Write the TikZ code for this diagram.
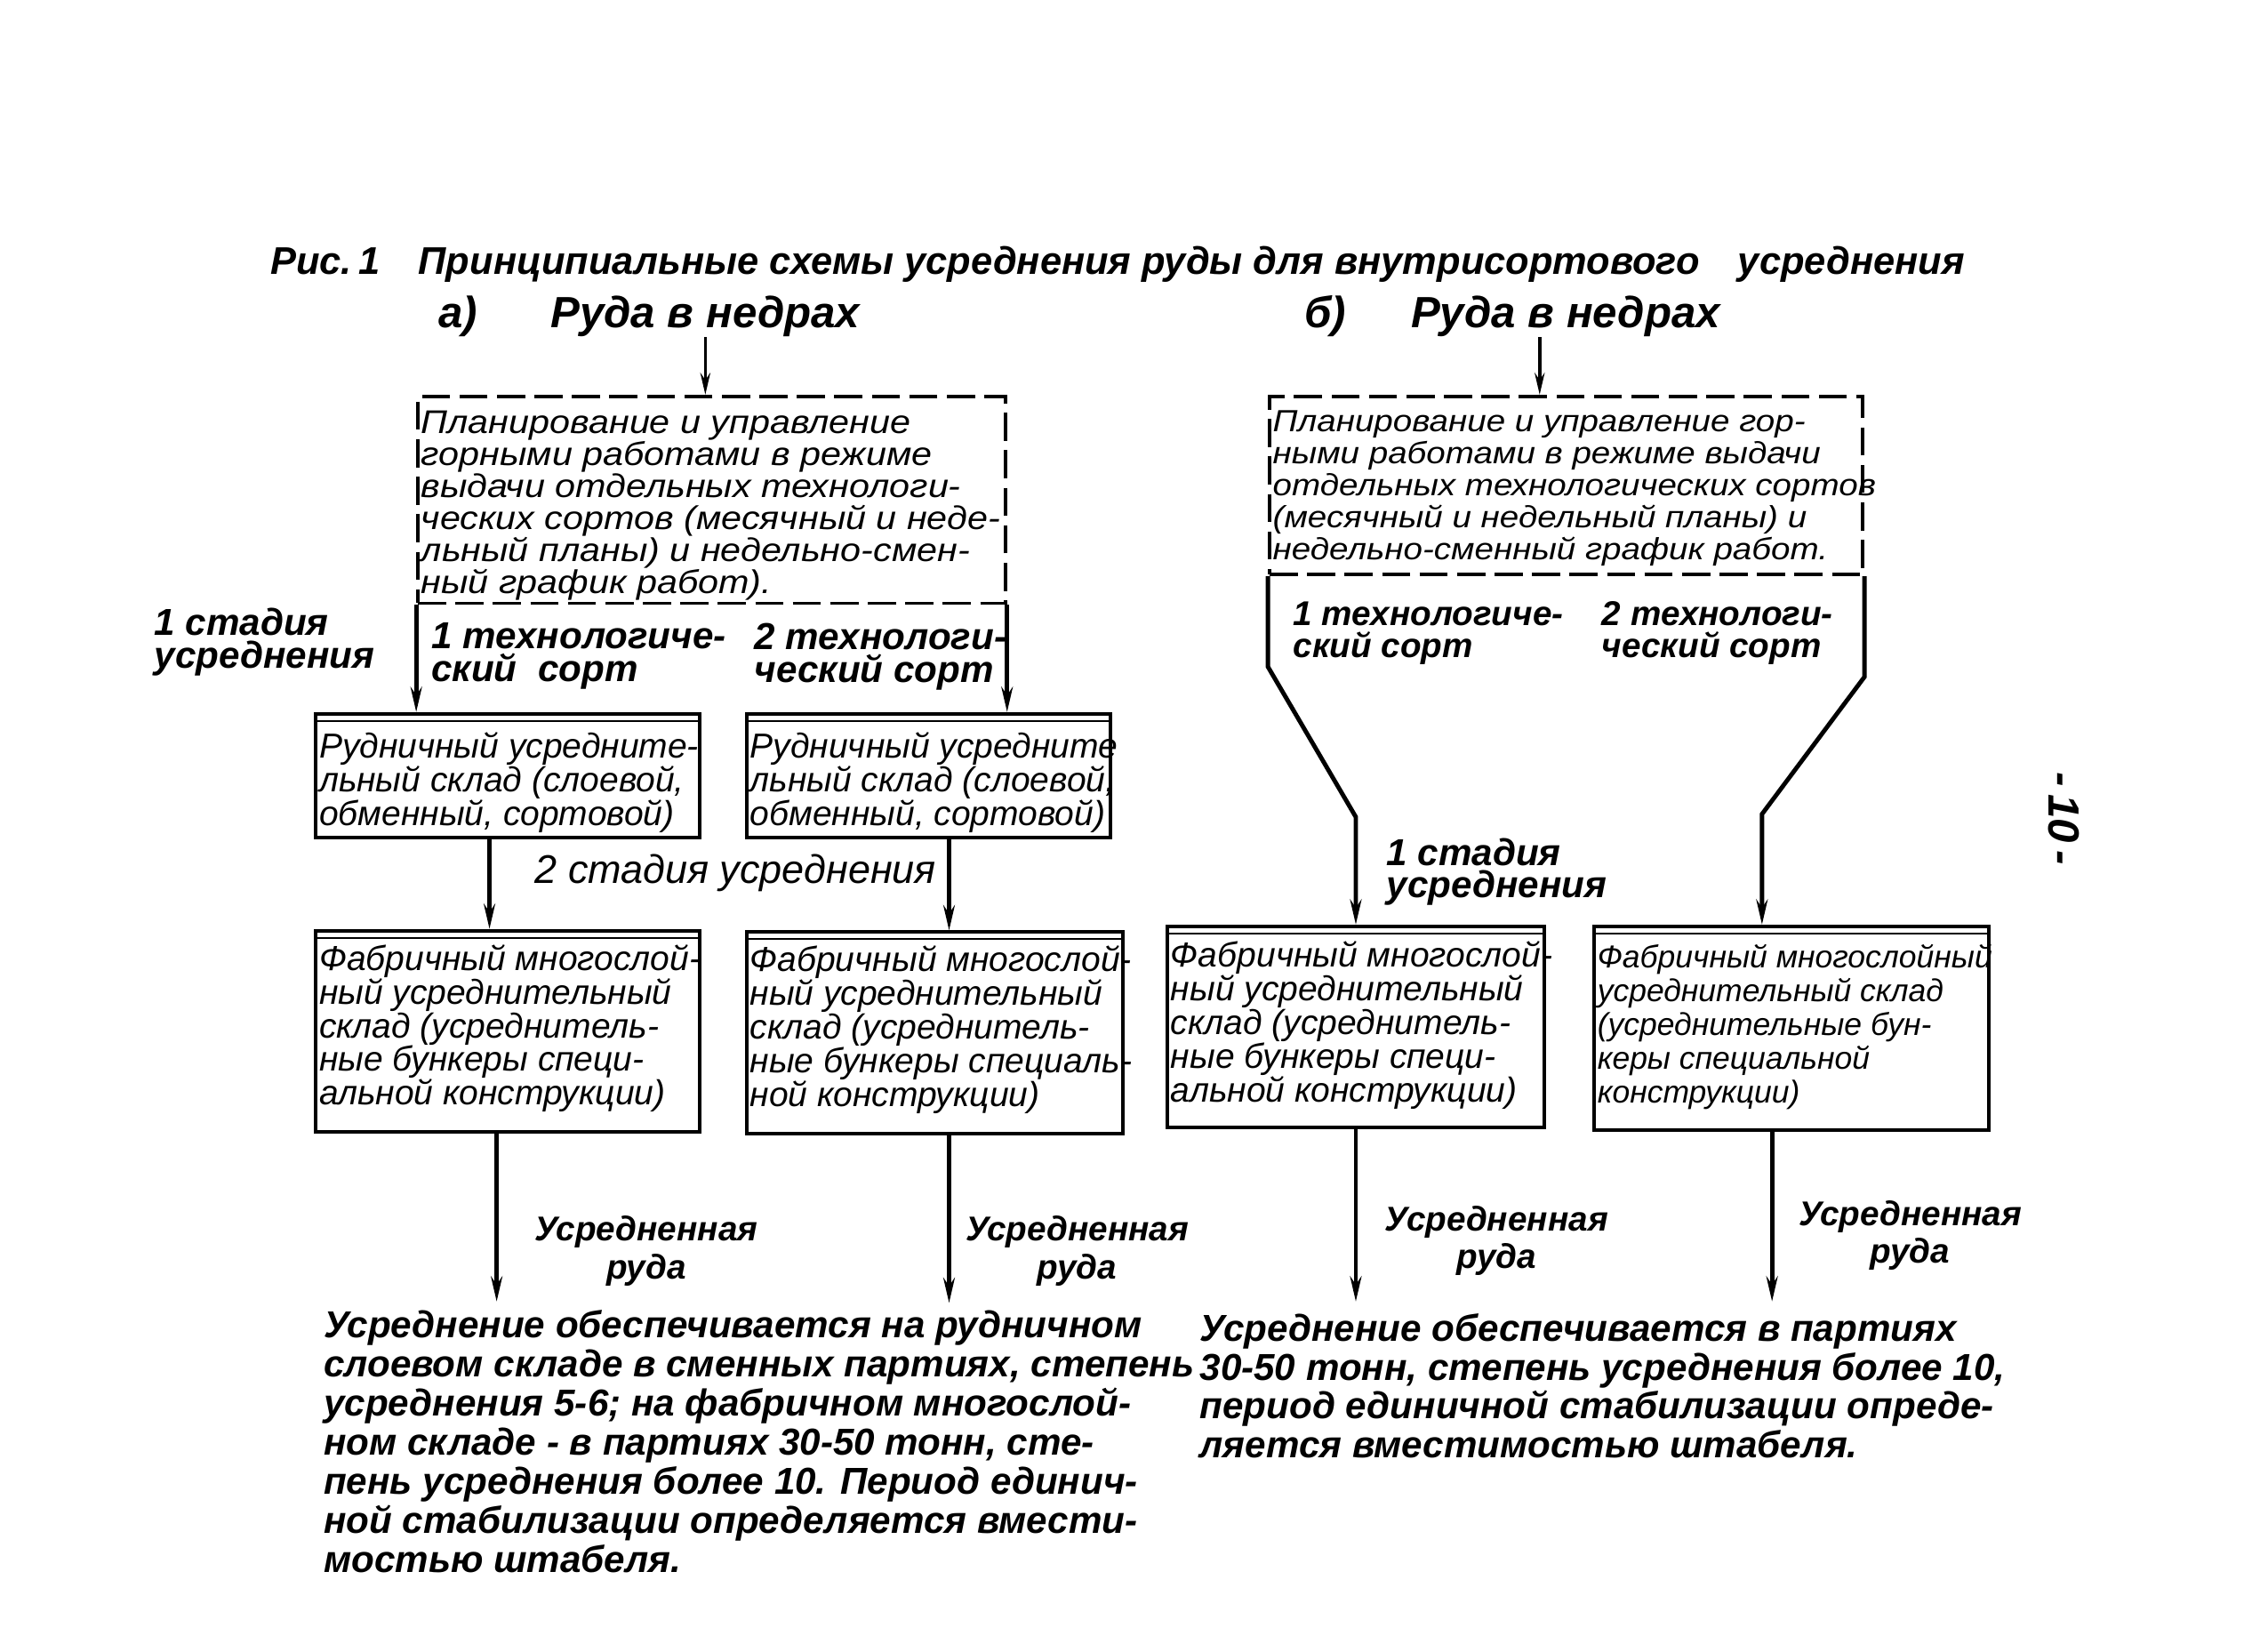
\documentclass[tikz,border=0pt]{standalone}
\usepackage{fontspec}
\setmainfont{Liberation Sans}
\newfontfamily\hand{Liberation Sans}
\newfontfamily\handw{Liberation Sans}[FakeStretch=1.12]
\usetikzlibrary{arrows.meta,calc}
\newlength\pxu
\setlength\pxu{0.016155cm}
\lineskiplimit=-100pt
\lineskip=0pt
\tikzset{
  ttl/.style={font=\hand\bfseries\itshape\fontsize{12.35}{14}\selectfont, inner sep=0pt},
  subt/.style={font=\hand\bfseries\itshape\fontsize{14}{16}\selectfont, inner sep=0pt},
  bigtxt/.style={font=\handw\itshape\fontsize{10.5}{10.2}\selectfont, align=left, inner sep=0pt},
  midtxt/.style={font=\hand\itshape\fontsize{11.1}{10.8}\selectfont, align=left, inner sep=0pt},
  lbl/.style={font=\hand\bfseries\itshape\fontsize{12}{10.5}\selectfont, align=left, inner sep=0pt},
  lbls/.style={font=\hand\bfseries\itshape\fontsize{11}{10.2}\selectfont, align=left, inner sep=0pt},
  lblc/.style={font=\hand\bfseries\itshape\fontsize{11}{12}\selectfont, align=center, inner sep=0pt},
  stg/.style={font=\hand\itshape\fontsize{12.8}{12}\selectfont, inner sep=0pt},
  note/.style={font=\hand\bfseries\itshape\fontsize{12}{12.5}\selectfont, align=left, inner sep=0pt},
  sbox/.style={draw, line width=1.1pt, inner sep=0pt},
  dbox/.style={draw, line width=1.1pt, dash pattern=on 9pt off 3pt, inner sep=0pt},
  arr/.style={line width=1.4pt, -{Stealth[length=8pt,width=3.6pt]}},
  tarr/.style={line width=1pt, -{Stealth[length=7pt,width=3.2pt]}},
}
\begin{document}
\begin{tikzpicture}[x=0.016155cm, y=-0.016155cm]
\useasboundingbox (0,0) rectangle (1568,1150);

% titles
\node[ttl, anchor=base west] (title) at (188,191) {Рис.\,1\quad Принципиальные схемы усреднения руды для внутрисортового\quad усреднения};
\node[subt, anchor=base west] (sa) at (305,228) {а)};
\node[subt, anchor=base west] (ra) at (383,228) {Руда в недрах};
\node[subt, anchor=base west] (sb) at (908,228) {б)};
\node[subt, anchor=base west] (rb) at (982,228) {Руда в недрах};

% scheme a
\node[dbox, minimum width=409\pxu, minimum height=144\pxu] (a1) at (495.5,348) {};
\node[bigtxt, anchor=west] (a1t) at ($(a1.west)+(3,4)$) {Планирование и управление\\горными работами в режиме\\выдачи отдельных технологи-\\ческих сортов (месячный и неде-\\льный планы) и недельно-смен-\\ный график работ).};

\node[sbox, minimum width=267\pxu, minimum height=86\pxu] (a2) at (353.5,540) {};
\node[midtxt, anchor=west] (a2t) at ($(a2.west)+(3,5)$) {Рудничный усредните-\\льный склад (слоевой,\\обменный, сортовой)};
\node[sbox, minimum width=253\pxu, minimum height=86\pxu] (a3) at (646.5,540) {};
\node[midtxt, anchor=west] (a3t) at ($(a3.west)+(3,5)$) {Рудничный усредните\\льный склад (слоевой,\\обменный, сортовой)};

\node[sbox, minimum width=267\pxu, minimum height=140\pxu] (a4) at (353.5,718) {};
\node[midtxt, anchor=west] (a4t) at ($(a4.west)+(3,-2)$) {Фабричный многослой-\\ный усреднительный\\склад (усреднитель-\\ные бункеры специ-\\альной конструкции)};
\node[sbox, minimum width=262\pxu, minimum height=140\pxu] (a5) at (651,719) {};
\node[midtxt, anchor=west] (a5t) at ($(a5.west)+(3,-2)$) {Фабричный многослой-\\ный усреднительный\\склад (усреднитель-\\ные бункеры специаль-\\ной конструкции)};

% scheme b
\node[dbox, minimum width=413\pxu, minimum height=124\pxu] (b1) at (1090.5,338) {};
\node[bigtxt, font=\handw\itshape\fontsize{9.8}{10.3}\selectfont, anchor=west] (b1t) at ($(b1.west)+(3,2)$) {Планирование и управление гор-\\ными работами в режиме выдачи\\отдельных технологических сортов\\(месячный и недельный планы) и\\недельно-сменный график работ.};

\node[sbox, minimum width=262\pxu, minimum height=140\pxu] (b2) at (944,715) {};
\node[midtxt, anchor=west] (b2t) at ($(b2.west)+(3,-1)$) {Фабричный многослой-\\ный усреднительный\\склад (усреднитель-\\ные бункеры специ-\\альной конструкции)};
\node[sbox, minimum width=275\pxu, minimum height=142\pxu] (b3) at (1247.5,716) {};
\node[midtxt, font=\hand\itshape\fontsize{10.1}{10.8}\selectfont, anchor=west] (b3t) at ($(b3.west)+(3,-1)$) {Фабричный многослойный\\усреднительный склад\\(усреднительные бун-\\керы специальной\\конструкции)};

% double top lines
\foreach \n in {a2,a3,a4,a5,b2,b3}
  \draw[line width=0.6pt] ($(\n.north west)+(0,6)$) -- ($(\n.north east)+(0,6)$);

% connectors
\draw[tarr] (ra.south) -- (ra.south |- a1.north);
\coordinate (rbx) at ($(rb.south west)+(90,0)$);
\draw[tarr] (rbx) -- (rbx |- b1.north);

\draw[arr] (a1.south west) -- (a1.south west |- a2.north);
\draw[arr] (a1.south east) -- (a1.south east |- a3.north);
\draw[arr] ($(a2.south west)+(122,0)$) -- ($(a4.north west)+(122,0)$);
\draw[arr] ($(a3.south west)+(142,0)$) -- ($(a5.north west)+(142,0)$);
\draw[arr] ($(a4.south west)+(127,0)$) -- ++(0,117);
\draw[arr] ($(a5.south west)+(142,0)$) -- ++(0,117);

\draw[arr] (b1.south west) -- ++(0,63) -- ($(b2.north)+(0,-75)$) -- (b2.north);
\draw[arr] (b1.south east) -- ++(0,70) -- ($(b3.north west)+(118,-77)$) -- ($(b3.north west)+(118,0)$);
\draw[arr] (b2.south) -- ++(0,120);
\draw[arr] ($(b3.south west)+(125,0)$) -- ++(0,118);

% labels
\node[lbl, anchor=west] (s1a) at (107,447) {1 стадия\\усреднения};
\node[lbl, anchor=west] (t1a) at (300,457) {1 технологиче-\\ский\ \ сорт};
\node[lbl, anchor=west] (t2a) at (525,457) {2 технологи-\\ческий сорт};
\node[stg, anchor=west] (s2a) at (372,608) {2 стадия\ усреднения};
\node[lbls, anchor=west] (t1b) at (900,441) {1 технологиче-\\ский сорт};
\node[lbls, anchor=west] (t2b) at (1115,441) {2 технологи-\\ческий сорт};
\node[lbl, anchor=west] (s1b) at (965,607) {1 стадия\\усреднения};

\node[lblc] (ua) at (450,871) {Усредненная\\руда};
\node[lblc] (ub) at (750,871) {Усредненная\\руда};
\node[lblc] (uc) at (1042,864) {Усредненная\\руда};
\node[lblc] (ud) at (1330,860) {Усредненная\\руда};

% notes
\node[note, anchor=north west] (na) at (225,912) {Усреднение обеспечивается на рудничном\\слоевом складе в сменных партиях, степень\\усреднения 5-6; на фабричном многослой-\\ном складе - в партиях 30-50 тонн, сте-\\пень усреднения более 10. Период единич-\\ной стабилизации определяется вмести-\\мостью штабеля.};
\node[note, anchor=north west] (nb) at (835,914) {Усреднение обеспечивается в партиях\\30-50 тонн, степень усреднения более 10,\\период единичной стабилизации опреде-\\ляется вместимостью штабеля.};

\node[subt, rotate=-90] (pg) at (1437,570) {-\,10\,-};
\end{tikzpicture}
\end{document}
